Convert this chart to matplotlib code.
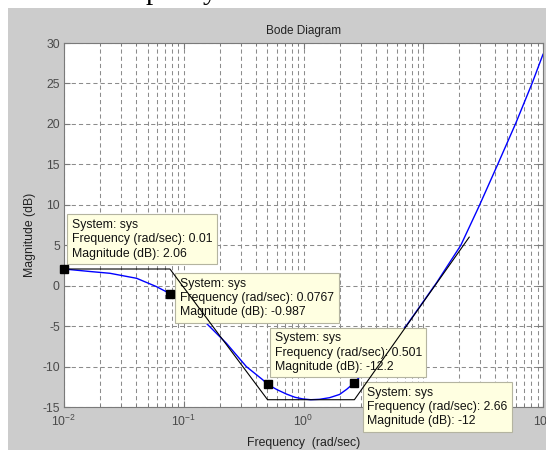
import matplotlib
matplotlib.use("Agg")
import matplotlib.pyplot as plt
from matplotlib.patches import Rectangle
from matplotlib.ticker import FixedLocator, LogLocator, NullFormatter, FixedFormatter

plt.rcParams['font.family'] = ['Liberation Sans', 'DejaVu Sans']
plt.rcParams['mathtext.fontset'] = 'custom'
plt.rcParams['mathtext.rm'] = 'Liberation Sans'
plt.rcParams['mathtext.it'] = 'Liberation Sans:italic'
plt.rcParams['mathtext.bf'] = 'Liberation Sans:bold'
plt.rcParams['mathtext.default'] = 'regular'
plt.rcParams['axes.unicode_minus'] = False
plt.rcParams['lines.scale_dashes'] = False

# Magnitude response of sys (rad/sec, dB)
freq = [0.01, 0.0165, 0.0242, 0.0404, 0.0592, 0.0767, 0.1545, 0.227, 0.333,
        0.458, 0.501, 0.60, 0.72, 0.85, 0.986, 1.15, 1.36, 1.65, 2.0, 2.3,
        2.66, 7.18, 12.9, 20.6, 29.3, 41.6, 59.2, 81.5, 100.0]
mag_db = [2.06, 1.75, 1.53, 0.91, -0.12, -0.987, -4.65, -7.12, -10.0,
          -11.65, -12.2, -12.85, -13.4, -13.8, -14.0, -14.1, -14.05, -13.85,
          -13.45, -12.8, -12.0, -5.0, 0.35, 5.0, 9.85, 14.9, 20.07, 25.1, 28.6]

# Straight-line (asymptotic) approximation
asym_freq = [0.01, 0.0767, 0.501, 2.66, 24.2]
asym_db = [2.06, 2.06, -14.1, -14.1, 6.0]

# Data tips
tip_freq = [0.01, 0.0767, 0.501, 2.66]
tip_db = [2.06, -0.987, -12.2, -12.0]
tip_freq_text = ['0.01', '0.0767', '0.501', '2.66']
tip_db_text = ['2.06', '-0.987', '-12.2', '-12']
tip_offsets_px = [(8, 50), (10, 16), (7, 52), (13, -4)]

y_ticks = [-15, -10, -5, 0, 5, 10, 15, 20, 25, 30]
y_tick_labels = ['-15', '-10', '-5', '0', '5', '10', '15', '20', '25', '30']
x_ticks = [0.01, 0.1, 1, 10, 100]
x_tick_labels = [r'$10^{-2}$', r'$10^{-1}$', r'$10^{0}$', r'$10^{1}$', r'$10^{2}$']

W, H = 546, 450
fig = plt.figure(figsize=(W / 100, H / 100), dpi=100)
fig.patch.set_facecolor('white')
fig.add_artist(Rectangle((8 / W, 0), 1 - 8 / W, (H - 8) / H,
                         transform=fig.transFigure, facecolor='#cccccc',
                         edgecolor='none', zorder=-10))

# fragments of the document text line above the figure
fig.text(146 / W, 1.0 + 1 / H, 'p', fontfamily='Liberation Serif', fontsize=21,
         va='baseline', ha='left', color='black')
fig.text(203 / W, 1.0 + 1 / H, 'y', fontfamily='Liberation Serif', fontsize=21,
         va='baseline', ha='left', color='black')


def px_rect(left, top, right, bottom):
    return [left / W, 1 - bottom / H, (right - left) / W, (bottom - top) / H]


ax = fig.add_axes(px_rect(64, 43, 543, 407))
ax.set_facecolor('white')
ax.set_xscale('log')
ax.set_xlim(0.01, 100)
ax.set_ylim(-15, 30)

ax.xaxis.set_major_locator(FixedLocator(x_ticks))
ax.xaxis.set_major_formatter(FixedFormatter(x_tick_labels))
ax.xaxis.set_minor_locator(LogLocator(base=10, subs=[2, 3, 4, 5, 6, 7, 8, 9], numticks=20))
ax.xaxis.set_minor_formatter(NullFormatter())
ax.yaxis.set_major_locator(FixedLocator(y_ticks))
ax.yaxis.set_major_formatter(FixedFormatter(y_tick_labels))

grid_style = dict(color='#8c8c8c', linestyle=(0, (3.0, 2.2)), linewidth=0.75)
ax.set_axisbelow(True)
ax.grid(True, which='major', axis='both', **grid_style)
ax.grid(True, which='minor', axis='x', **grid_style)

for s in ax.spines.values():
    s.set_color('#7a7a7a')
    s.set_linewidth(0.8)

ax.tick_params(which='both', direction='in', top=True, right=True,
               colors='#7a7a7a', labelcolor='#4a4a4a', labelsize=8.8)
ax.tick_params(which='major', length=4)
ax.tick_params(which='minor', length=2)
ax.tick_params(axis='x', pad=5)
ax.tick_params(axis='y', pad=3)

ax.plot(freq, mag_db, color='#0000ff', linewidth=1.0, zorder=2)

for f, d, ft, dt, (dx, dy) in zip(tip_freq, tip_db, tip_freq_text,
                                  tip_db_text, tip_offsets_px):
    ax.annotate(f"System: sys\nFrequency (rad/sec): {ft}\nMagnitude (dB): {dt}",
                xy=(f, d), xytext=(dx, dy), textcoords='offset pixels',
                ha='left', va='top', fontsize=8.8, color='#111111',
                linespacing=1.25,
                bbox=dict(boxstyle='square,pad=0.38', facecolor='#ffffe1',
                          edgecolor='#b4b4a0', linewidth=0.8),
                zorder=4, annotation_clip=False)

ax.plot(asym_freq, asym_db, color='black', linewidth=0.8, zorder=5)
ax.plot(tip_freq, tip_db, linestyle='none', marker='s', markersize=6,
        color='black', zorder=6, clip_on=False)

ax.set_ylabel('Magnitude (dB)', fontsize=8.8, color='#222222', va='center')
ax.yaxis.set_label_coords(-34 / 479, (407 - 235) / 364)
ax.set_xlabel('Frequency  (rad/sec)', fontsize=8.8, color='#222222', va='top')
ax.xaxis.set_label_coords(0.5, -(437 - 407) / 364)
ax.text(0.5, 1 + (43 - 34) / 364, 'Bode Diagram', transform=ax.transAxes,
        ha='center', va='baseline', fontsize=8.5, color='#222222')

fig.savefig('out.png', dpi=100)
